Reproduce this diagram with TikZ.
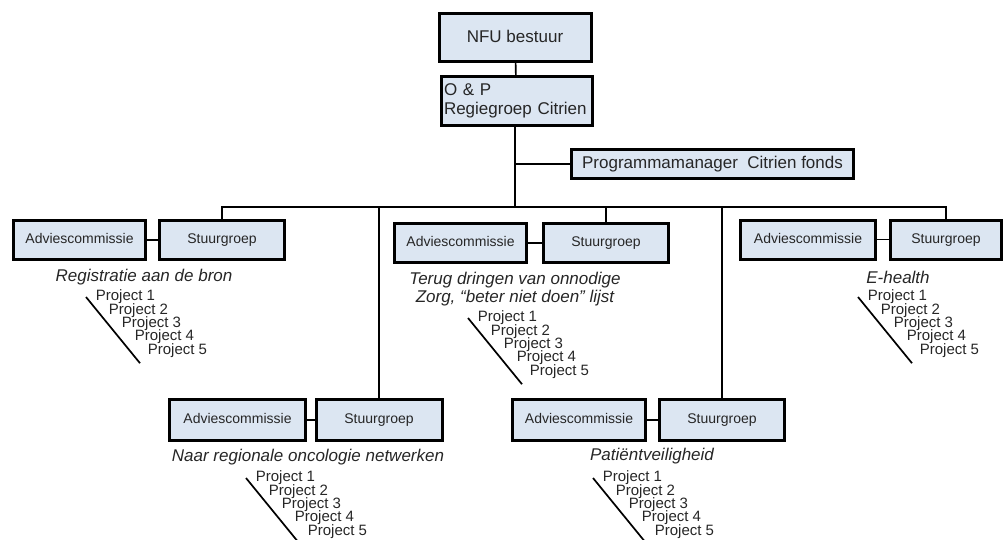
\documentclass[tikz,border=0pt]{standalone}
\usepackage{fontspec}
\setmainfont{Liberation Sans}
\usepackage{tikz}
\usetikzlibrary{positioning}
\definecolor{boxblue}{HTML}{DCE6F2}
\tikzset{box/.style={draw=black,line width=3pt,fill=boxblue,inner sep=2pt,text=black!85}}

\begin{document}
\begin{tikzpicture}[x=1pt,y=-1pt,line width=1.7pt]%organogram

      \tikzstyle{big}=[box,font={\fontsize{17}{19}\selectfont}]
      \tikzstyle{small}=[box,font={\fontsize{14}{16}\selectfont},minimum height=39pt,text height=10pt,text depth=3pt]
      \tikzstyle{caption}=[align=center,text=black!85,font={\fontsize{17}{18}\selectfont\itshape}]
      \tikzstyle{project}=[anchor=west,inner sep=0pt,text=black!85,font={\fontsize{15}{15}\selectfont}]

      \useasboundingbox (0,0) rectangle (1004,539);

      %top of the chart
      \node [big,minimum width=152pt,minimum height=48pt,text height=12pt,text depth=3pt] (nfu) at (515,37.5) {NFU bestuur};
      \node [big,minimum width=151pt,minimum height=49pt,text width=145pt,align=left,inner sep=3pt] (op) at (516.5,101) {O \& P\\Regiegroep Citrien};
      \node [big,minimum width=282pt,minimum height=29pt] (pm) at (712.5,164) {Programmamanager\ \ Citrien fonds};
      \coordinate (bus) at (515,207);

      %the five groups
      \node [small,minimum width=132pt] (a1) at (79.5,240) {Adviescommissie};
      \node [small,minimum width=125pt] (s1) at (222,240) {Stuurgroep};
      \node [small,minimum width=132pt] (a2) at (460.5,243) {Adviescommissie};
      \node [small,minimum width=125pt] (s2) at (606,243) {Stuurgroep};
      \node [small,minimum width=135pt] (a3) at (808,239.5) {Adviescommissie};
      \node [small,minimum width=111pt] (s3) at (946,239.5) {Stuurgroep};
      \node [small,minimum width=136pt,minimum height=41pt] (a4) at (237.5,420) {Adviescommissie};
      \node [small,minimum width=126pt,minimum height=41pt] (s4) at (379,420) {Stuurgroep};
      \node [small,minimum width=133pt,minimum height=41pt] (a5) at (579,420) {Adviescommissie};
      \node [small,minimum width=125pt,minimum height=41pt] (s5) at (722,420) {Stuurgroep};

      \node [caption] (c1) at (144,277) {Registratie aan de bron};
      \node [caption] (c2) at (515,289) {Terug dringen van onnodige\\Zorg, ``beter niet doen'' lijst};
      \node [caption] (c3) at (898,277) {E-health};
      \node [caption] (c4) at (308,457) {Naar regionale oncologie netwerken};
      \node [caption] (c5) at (652,456) {Patiëntveiligheid};

      %project lists
      \foreach \g/\px/\py in {A/95/297, B/477/318, C/867/297, D/255/478, E/602/478} {
        \foreach \i in {1,...,5}
          \node [project] (\g\i) at ({\px+13*(\i-1)},{\py+13.3*(\i-1)}) {Project \i};
        \draw ([xshift=-9pt]\g1.west) -- ([xshift=-7pt,yshift=-13pt]\g5.west);
      }

      %lines
      \draw (nfu) -- (op);
      \draw (op.south -| bus) -- (bus);
      \draw (pm.west) -- (pm.west -| bus);
      \draw (s1.north) -- (s1.north |- bus) -- (s3.north |- bus) -- (s3.north);
      \draw (s2.north) -- (s2.north |- bus);
      \draw (s4.north) -- (s4.north |- bus);
      \draw (s5.north) -- (s5.north |- bus);
      \draw (a1) -- (s1);
      \draw (a2) -- (s2);
      \draw (a3) -- (s3);
      \draw (a4) -- (s4);
      \draw (a5) -- (s5);

\end{tikzpicture}
\end{document}
